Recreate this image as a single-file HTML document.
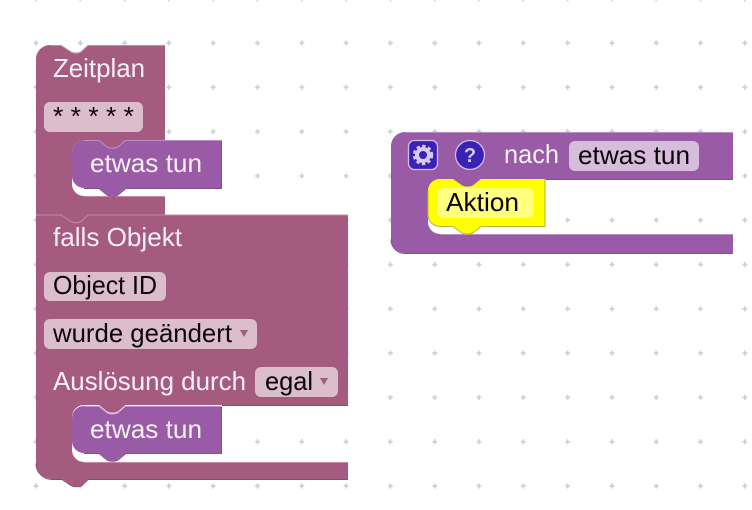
<!DOCTYPE html>
<html><head><meta charset="utf-8"><style>
html,body{margin:0;padding:0;background:#fff;width:752px;height:510px;overflow:hidden}
svg{display:block}
text{font-family:"Liberation Sans",sans-serif;font-size:26px}
.w{fill:#f9eff6}.k{fill:#0a0408}
.m{fill:#a55b80}
.p{fill:#995ba6}
.fm{fill:#dbbdcc}.fp{fill:#d7bddb}
.hm,.dm,.hp,.dp{fill:none;stroke-width:1}
.hm{stroke:#c48aa6}.dm{stroke:#8a4d6b}
.hp{stroke:#bd8cc8}.dp{stroke:#80508c}
</style></head><body>
<svg width="752" height="510" viewBox="0 0 752 510" xmlns="http://www.w3.org/2000/svg">
<defs><pattern id="g" x="33.2" y="40.2" width="44.3" height="44.3" patternUnits="userSpaceOnUse">
<path d="M2.800 0.300V5.300M0.300 2.800H5.300" stroke="#c5d2d7" stroke-width="1.700"/></pattern></defs>
<rect width="752" height="510" fill="url(#g)"/>

<!-- falls Objekt -->
<path class="m" d="M36 215H348V405H125.500L118 411.500q-5.500 2.500-11 0L99 405H84a12 12 0 0 0-12 12V450a12 12 0 0 0 12 12H348V479H88L82 485q-5.500 2.500-11 0L62 479H52a16 16 0 0 1-16-16Z"/>
<path class="hm" d="M84 462.500H348"/>
<path class="dm" d="M348 405.500H222M348 479.500H88L82 485.500q-5.500 2.500-11 0L62 479.500H52a16 16 0 0 1-16-16"/>

<!-- Zeitplan -->
<path class="m" d="M36 215.500V59a14 14 0 0 1 14-14H61L71 51.500q5 2.500 10 0L88 45H165V140H125.500L118 146.500q-5.500 2.500-11 0L99 140H84a12 12 0 0 0-12 12V184a12 12 0 0 0 12 12H165V214.500H88L81 221q-5 2.500-10 0L61 214.500Z"/>
<path class="hm" d="M50 45.500H61L71 52q5 2.500 10 0L88 45.500H165M84 196.500H165M36 215H61L71 221.500q5 2.500 10 0L88 215H348"/>
<text class="w" x="53" y="77" textLength="92" lengthAdjust="spacingAndGlyphs">Zeitplan</text>
<rect class="fm" x="44" y="102" width="99" height="30" rx="6"/>
<text class="k" x="53" y="125" textLength="81" lengthAdjust="spacingAndGlyphs">* * * * *</text>

<!-- etwas tun 1 -->
<path class="p" d="M72 152a12 12 0 0 1 12-12h15l8 6.500q5.500 2.500 11 0l7.500-6.500H222V188H126l-8 6.500q-5.500 2.500-11 0L99 188H84a12 12 0 0 1-12-12Z"/>
<path class="hp" d="M84 140.500H99l8 6.500q5.500 2.500 11 0l7.500-6.500H222"/>
<path class="dp" d="M221.500 141V188.500H126l-8 6.500q-5.500 2.500-11 0l-8-6.500H84"/>
<text class="w" x="90" y="172" textLength="112" lengthAdjust="spacingAndGlyphs">etwas tun</text>

<text class="w" x="53" y="246" textLength="129" lengthAdjust="spacingAndGlyphs">falls Objekt</text>
<rect class="fm" x="44" y="272" width="122" height="29" rx="6"/>
<text class="k" x="53" y="294" textLength="104" lengthAdjust="spacingAndGlyphs">Object ID</text>
<rect class="fm" x="44" y="319" width="213" height="30" rx="6"/>
<text class="k" x="53" y="342" textLength="179" lengthAdjust="spacingAndGlyphs">wurde geändert</text>
<path d="M240 330h8l-4 7Z" fill="#a55b80"/>
<text class="w" x="53" y="390" textLength="193" lengthAdjust="spacingAndGlyphs">Auslösung durch</text>
<rect class="fm" x="255" y="367" width="83" height="30" rx="6"/>
<text class="k" x="265" y="390" textLength="48" lengthAdjust="spacingAndGlyphs">egal</text>
<path d="M320 378h8l-4 7Z" fill="#a55b80"/>

<!-- etwas tun 2 -->
<path class="p" d="M72 418a12 12 0 0 1 12-12h15l8 6.500q5.500 2.500 11 0l7.500-6.500H222V453H126l-8 6.500q-5.500 2.500-11 0L99 453H84a12 12 0 0 1-12-12Z"/>
<path class="hp" d="M84 406.500H99l8 6.500q5.500 2.500 11 0l7.500-6.500H222"/>
<path class="dp" d="M221.500 407V453.500H126l-8 6.500q-5.500 2.500-11 0l-8-6.500H84"/>
<text class="w" x="90" y="438" textLength="112" lengthAdjust="spacingAndGlyphs">etwas tun</text>

<!-- nach -->
<path class="p" d="M391 146a14 14 0 0 1 14-14H733V179H481L473 185.500q-5.500 2.500-11 0L453 179H440a12 12 0 0 0-12 12V222a12 12 0 0 0 12 12H733V253H405a14 14 0 0 1-14-14Z"/>
<path class="hp" d="M405 132.500H733M440 234.500H733"/>
<path class="dp" d="M733 179.500H545M733 253.500H405a14 14 0 0 1-14-14"/>
<rect x="408.500" y="140.500" width="29" height="29" rx="6" fill="#3a22b8" stroke="#d3bde6" stroke-width="1.300"/>
<circle cx="423" cy="155" r="6" fill="none" stroke="#d8cbea" stroke-width="4"/>
<circle cx="423" cy="155" r="9" fill="none" stroke="#d8cbea" stroke-width="2.400" stroke-dasharray="3.400 2.500"/>
<circle cx="470" cy="155" r="14.500" fill="#3a22b8" stroke="#d3bde6" stroke-width="1.300"/>
<text x="470" y="162" text-anchor="middle" style="font-size:20px;font-weight:bold;fill:#d8cbea">?</text>
<text class="w" x="504" y="163" textLength="55" lengthAdjust="spacingAndGlyphs">nach</text>
<rect class="fp" x="569" y="141" width="130" height="30" rx="6"/>
<text class="k" x="578" y="164" textLength="112" lengthAdjust="spacingAndGlyphs">etwas tun</text>

<!-- Aktion -->
<path d="M428 191a12 12 0 0 1 12-12h13l9 6.500q5.500 2.500 11 0l8-6.500H545V226H481l-8 6.500q-5.500 2.500-11 0l-9-6.500H440a12 12 0 0 1-12-12Z" fill="#ffff00"/>
<path d="M545 179V226.500H481l-8 6.500q-5.500 2.500-11 0l-9-6.500H440a12 12 0 0 1-12-12V191" fill="none" stroke="#b8b040" stroke-width="1"/>
<rect x="437" y="188" width="97" height="30" rx="6" fill="#ffff80"/>
<text class="k" x="446" y="211" textLength="73" lengthAdjust="spacingAndGlyphs">Aktion</text>
</svg>
</body></html>
